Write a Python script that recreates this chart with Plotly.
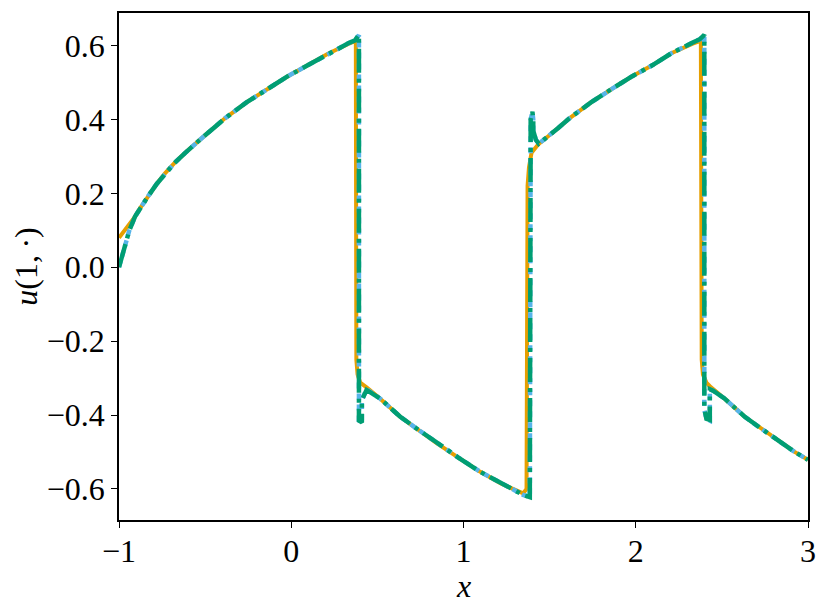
import plotly.graph_objects as go

# reference solution (orange, solid)
x_ref = [-1.0, -0.95, -0.907, -0.88, -0.83, -0.78, -0.733, -0.68, -0.617, -0.57, -0.52, -0.45, -0.385,
         -0.26, -0.134, -0.02, 0.098, 0.21, 0.331, 0.37, 0.375,
         0.378, 0.385, 0.40, 0.437, 0.515, 0.631, 0.72, 0.844, 0.97, 1.095, 1.22, 1.346, 1.366,
         1.372, 1.38, 1.395, 1.433, 1.48, 1.55, 1.615, 1.74, 1.866, 1.98, 2.098, 2.21, 2.331, 2.372, 2.378,
         2.383, 2.39, 2.41, 2.437, 2.515, 2.631, 2.72, 2.844, 2.92, 3.0]
u_ref = [0.08, 0.11, 0.137, 0.158, 0.193, 0.226, 0.254, 0.281, 0.309, 0.330, 0.349, 0.377, 0.403,
         0.446, 0.484, 0.517, 0.547, 0.577, 0.604, 0.612, 0.605,
         -0.25, -0.29, -0.312, -0.325, -0.355, -0.404, -0.434, -0.476, -0.515, -0.553, -0.586, -0.612, -0.600,
         0.22, 0.27, 0.31, 0.332, 0.349, 0.377, 0.403, 0.446, 0.484, 0.517, 0.547, 0.580, 0.605, 0.612, 0.606,
         -0.25, -0.29, -0.312, -0.325, -0.355, -0.404, -0.434, -0.476, -0.499, -0.521]

# fine approximation (sky blue, dotted)
x_fine = [-1.0, -0.97, -0.94, -0.907, -0.88, -0.83, -0.78, -0.733, -0.68, -0.617, -0.57, -0.52, -0.45, -0.385,
          -0.26, -0.134, -0.02, 0.098, 0.21, 0.331, 0.37, 0.393,
          0.393, 0.41, 0.41, 0.437, 0.515, 0.631, 0.72, 0.844, 0.97, 1.095, 1.22, 1.346, 1.385,
          1.39, 1.40, 1.405, 1.405, 1.42, 1.437, 1.48, 1.55, 1.615, 1.74, 1.866, 1.98, 2.098, 2.21, 2.331, 2.372, 2.398,
          2.398, 2.41, 2.43, 2.43, 2.449, 2.515, 2.631, 2.72, 2.844, 2.92, 3.0]
u_fine = [0.0, 0.05, 0.10, 0.137, 0.158, 0.193, 0.226, 0.254, 0.281, 0.309, 0.330, 0.349, 0.377, 0.403,
          0.446, 0.484, 0.517, 0.547, 0.577, 0.606, 0.614, 0.628,
          -0.415, -0.42, -0.36, -0.330, -0.355, -0.404, -0.434, -0.476, -0.515, -0.553, -0.586, -0.616, -0.622,
          0.40, 0.42, 0.40, 0.37, 0.345, 0.334, 0.349, 0.377, 0.403, 0.446, 0.484, 0.517, 0.547, 0.580, 0.608, 0.617, 0.628,
          -0.385, -0.41, -0.415, -0.33, -0.334, -0.355, -0.404, -0.434, -0.476, -0.499, -0.521]

# coarse approximation (green, dash-dot)
x_dg = [-1.0, -0.97, -0.94, -0.907, -0.88, -0.83, -0.78, -0.733, -0.68, -0.617, -0.57, -0.52, -0.45, -0.385,
        -0.26, -0.134, -0.02, 0.098, 0.21, 0.331, 0.37, 0.393,
        0.393, 0.41, 0.41, 0.437, 0.515, 0.631, 0.72, 0.844, 0.97, 1.095, 1.22, 1.346, 1.385,
        1.39, 1.40, 1.405, 1.405, 1.42, 1.437, 1.48, 1.55, 1.615, 1.74, 1.866, 1.98, 2.098, 2.21, 2.331, 2.372, 2.398,
        2.398, 2.41, 2.43, 2.43, 2.449, 2.515, 2.631, 2.72, 2.844, 2.92, 3.0]
u_dg = [0.0, 0.05, 0.10, 0.137, 0.158, 0.193, 0.226, 0.254, 0.281, 0.309, 0.330, 0.349, 0.377, 0.403,
        0.446, 0.484, 0.517, 0.547, 0.577, 0.606, 0.614, 0.629,
        -0.415, -0.42, -0.36, -0.332, -0.355, -0.404, -0.434, -0.476, -0.515, -0.553, -0.586, -0.616, -0.622,
        0.40, 0.421, 0.40, 0.37, 0.345, 0.334, 0.349, 0.377, 0.403, 0.446, 0.484, 0.517, 0.547, 0.580, 0.608, 0.617, 0.629,
        -0.382, -0.41, -0.413, -0.33, -0.334, -0.355, -0.404, -0.434, -0.476, -0.499, -0.521]

x_ticks = [-1, 0, 1, 2, 3]
y_ticks = [-0.6, -0.4, -0.2, 0.0, 0.2, 0.4, 0.6]

font = "Liberation Serif, DejaVu Serif, serif"


def fmt(v, nd):
    s = f"{v:.{nd}f}"
    return s.replace("-", "\u2212")


fig = go.Figure()
fig.add_trace(go.Scatter(x=x_ref, y=u_ref, mode="lines",
                         line=dict(color="#E69F00", width=4)))
fig.add_trace(go.Scatter(x=x_fine, y=u_fine, mode="lines",
                         line=dict(color="#56B4E9", width=4.5, dash="6px,5px")))
fig.add_trace(go.Scatter(x=x_dg, y=u_dg, mode="lines",
                         line=dict(color="#009E73", width=4.5, dash="24px,6px,4px,6px")))

axis_style = dict(showline=True, linecolor="black", linewidth=1.5, mirror=True,
                  ticks="outside", ticklen=6, tickwidth=1.2, tickcolor="black",
                  showgrid=False, zeroline=False, automargin=False,
                  tickfont=dict(family=font, size=32, color="black"))

fig.update_xaxes(range=[-1, 3], tickvals=x_ticks, ticktext=[fmt(v, 0) for v in x_ticks],
                 ticklabelstandoff=-4, **axis_style)
fig.update_yaxes(range=[-0.684, 0.688], tickvals=y_ticks, ticktext=[fmt(v, 1) for v in y_ticks],
                 title=dict(text="<i>u</i>(1,\u2009·)", font=dict(family=font, size=32, color="black"), standoff=8),
                 **axis_style)

# x label placed by hand, closer to the tick labels than the axis title allows
fig.add_annotation(text="<i>x</i>", xref="paper", yref="paper", x=0.5, y=0,
                   yanchor="top", yshift=-46, showarrow=False,
                   font=dict(family=font, size=32, color="black"))

# the page body adds an 8px margin, so the figure is 8px smaller and shifted
fig.update_layout(width=823, height=604, showlegend=False,
                  plot_bgcolor="white", paper_bgcolor="white",
                  margin=dict(l=111, r=23, t=5, b=92))

fig.write_html("out.html")
